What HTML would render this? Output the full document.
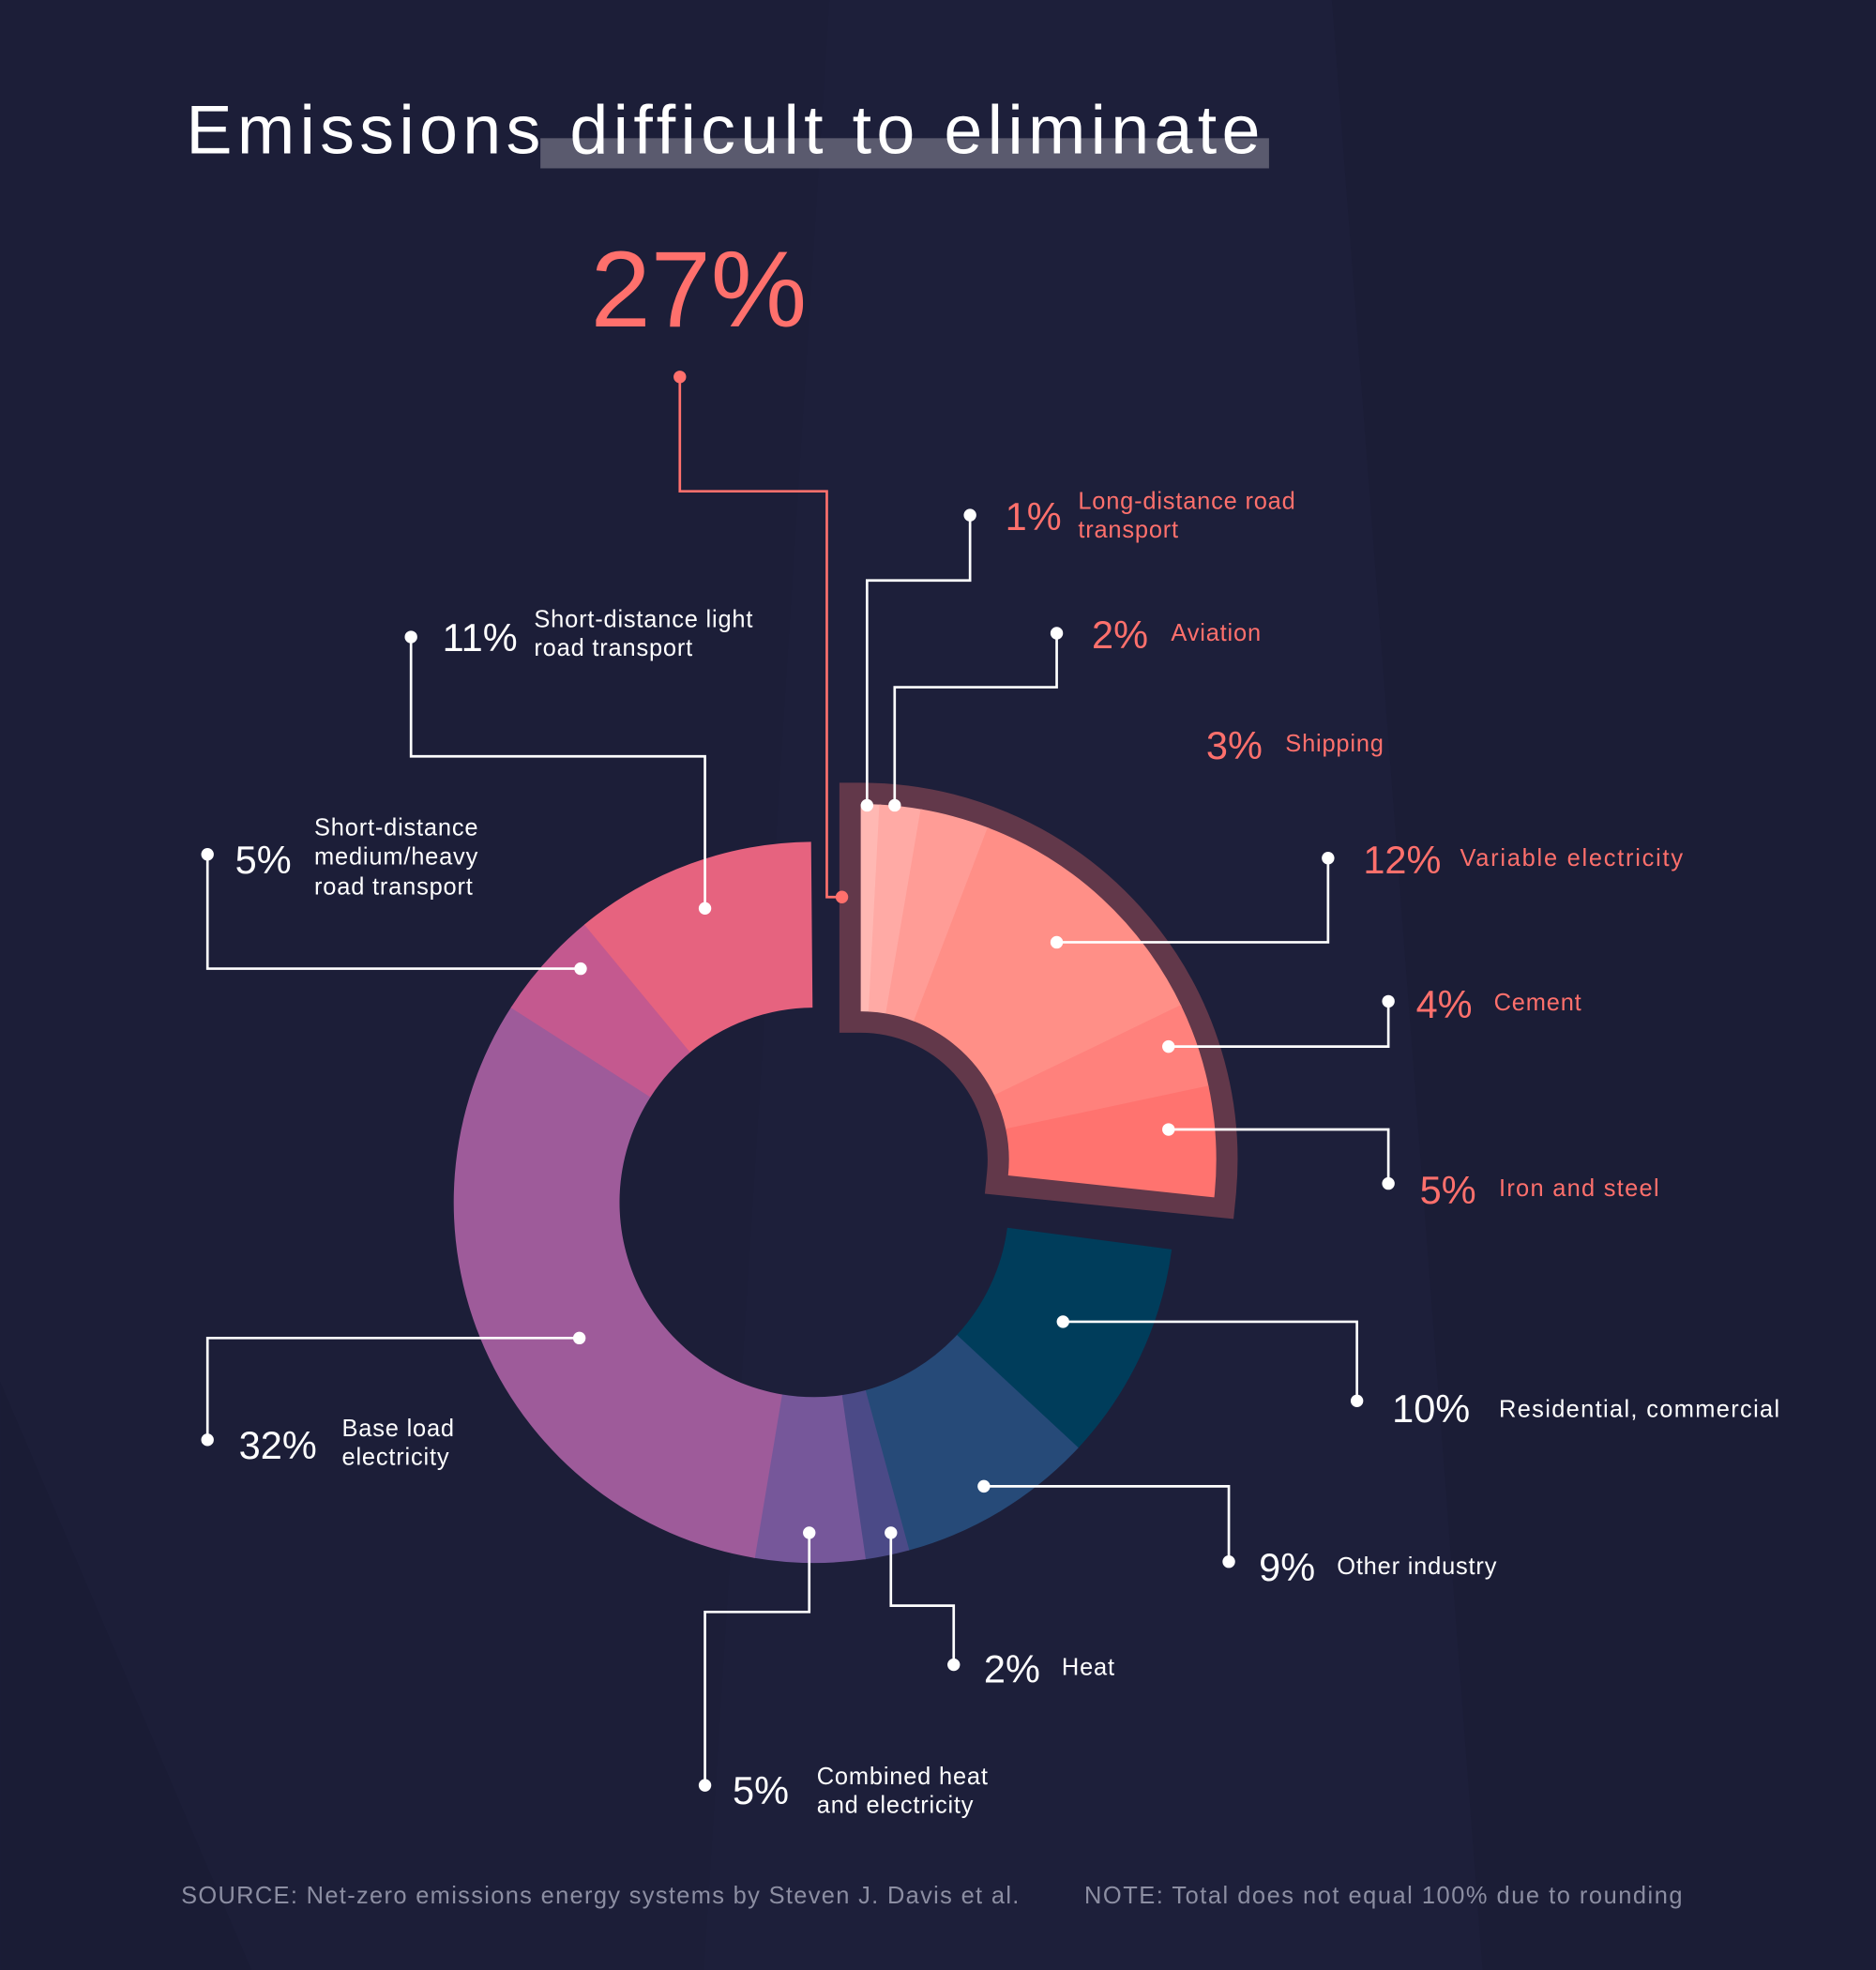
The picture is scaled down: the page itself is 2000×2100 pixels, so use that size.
<!DOCTYPE html>
<html><head><meta charset="utf-8"><style>
html,body{margin:0;padding:0;background:#1d1f3a;}
svg{display:block;}
text{font-family:"Liberation Sans",sans-serif;}
</style></head><body>
<svg id="s" width="2000" height="2100" viewBox="0 0 1493 1568" xmlns="http://www.w3.org/2000/svg">
<rect width="1493" height="1568" fill="#1d1f3a"/>
<polygon points="0,0 660,0 560,1568 0,1568" fill="#1c1e38"/>
<polygon points="1060,0 1493,0 1493,1568 1180,1568" fill="#1b1d36"/>
<polygon points="0,1100 200,1568 0,1568" fill="#1a1c35"/>
<rect x="430" y="110" width="580" height="24" fill="#5a5a6e"/>
<text x="148" y="122" font-size="55" fill="#ffffff" textLength="855" lengthAdjust="spacing">Emissions difficult to eliminate</text>
<text x="470" y="260" font-size="86" fill="#ff706c">27%</text>
<g id="donut"></g>
<g id="lines" fill="none" stroke-width="2"></g>
<g id="dots"></g>
<g font-size="31" fill="#ff706c">
<text x="800" y="422">1%</text><text x="869" y="516">2%</text><text x="960" y="604">3%</text>
<text x="1085" y="695">12%</text><text x="1127" y="810">4%</text><text x="1130" y="958">5%</text>
</g>
<g font-size="19" fill="#ff706c" letter-spacing="0.6">
<text x="858" y="405">Long-distance road</text><text x="858" y="428">transport</text>
<text x="932" y="510">Aviation</text><text x="1023" y="598">Shipping</text>
<text x="1162" y="689" textLength="178" lengthAdjust="spacing">Variable electricity</text><text x="1189" y="804">Cement</text>
<text x="1193" y="952" textLength="128" lengthAdjust="spacing">Iron and steel</text>
</g>
<g font-size="31" fill="#ffffff">
<text x="1108" y="1132">10%</text><text x="1002" y="1258">9%</text><text x="783" y="1339">2%</text>
<text x="583" y="1436">5%</text><text x="190" y="1161">32%</text><text x="187" y="695">5%</text>
<text x="352" y="518">11%</text>
</g>
<g font-size="19" fill="#ffffff" letter-spacing="0.6">
<text x="1193" y="1128" textLength="224" lengthAdjust="spacing">Residential, commercial</text><text x="1064" y="1253">Other industry</text>
<text x="845" y="1333">Heat</text>
<text x="650" y="1420">Combined heat</text><text x="650" y="1443">and electricity</text>
<text x="272" y="1143">Base load</text><text x="272" y="1166">electricity</text>
<text x="250" y="665">Short-distance</text><text x="250" y="688">medium/heavy</text><text x="250" y="712">road transport</text>
<text x="425" y="499">Short-distance light</text><text x="425" y="522">road transport</text>
</g>
<g font-size="19" fill="#8c8ea2">
<text x="144" y="1515" textLength="667" lengthAdjust="spacing">SOURCE: Net-zero emissions energy systems by Steven J. Davis et al.</text>
<text x="863" y="1515" textLength="476" lengthAdjust="spacing">NOTE: Total does not equal 100% due to rounding</text>
</g>
</svg>
<script>
var NS="http://www.w3.org/2000/svg";
function pt(cx,cy,r,a){a=a*Math.PI/180;return [cx+r*Math.sin(a),cy-r*Math.cos(a)];}
function sec(cx,cy,ri,ro,a0,a1){
 var p1=pt(cx,cy,ro,a0),p2=pt(cx,cy,ro,a1),p3=pt(cx,cy,ri,a1),p4=pt(cx,cy,ri,a0);
 var lg=(a1-a0)>180?1:0;
 return "M"+p1+"A"+ro+","+ro+" 0 "+lg+" 1 "+p2+"L"+p3+"A"+ri+","+ri+" 0 "+lg+" 0 "+p4+"Z";
}
var g=document.getElementById("donut");
function add(d,fill,extra){var p=document.createElementNS(NS,"path");p.setAttribute("d",d);p.setAttribute("fill",fill);if(extra)for(var k in extra)p.setAttribute(k,extra[k]);g.appendChild(p);}
add(sec(685,923,118,283,0,95.8),"#62384a",{stroke:"#62384a","stroke-width":34,"stroke-linejoin":"miter"});
var ex=[[0,3,"#ffb8b3"],[3,9.7,"#ffaaa5"],[9.7,20.9,"#ff9c96"],[20.9,64.2,"#ff8f87"],[64.2,78,"#ff817c"],[78,95.8,"#ff736f"]];
ex.forEach(function(e){add(sec(685,923,118,283,e[0],e[1]+0.3),e[2]);});
var rest=[[10,"#003d5b"],[9,"#264a78"],[2,"#4b4a87"],[5,"#76579a"],[32,"#9e5b9a"],[5,"#c4598f"],[11,"#e6637f"]];
var a=97.5,k=(359.3-97.5)/74;
rest.forEach(function(r){var b=a+r[0]*k;add(sec(648,957,155,287,a,b+0.2),r[1]);a=b;});
var L=document.getElementById("lines"),D=document.getElementById("dots");
function line(pts,c){var p=document.createElementNS(NS,"polyline");p.setAttribute("points",pts.map(function(q){return q.join(",")}).join(" "));p.setAttribute("stroke",c);L.appendChild(p);
 [pts[0],pts[pts.length-1]].forEach(function(q){var ci=document.createElementNS(NS,"circle");ci.setAttribute("cx",q[0]);ci.setAttribute("cy",q[1]);ci.setAttribute("r",5);ci.setAttribute("fill",c);D.appendChild(ci);});}
var W="#ffffff",C="#ff706c";
line([[541,300],[541,391],[658,391],[658,714],[670,714]],C);
line([[772,410],[772,462],[690,462],[690,641]],W);
line([[841,504],[841,547],[712,547],[712,641]],W);
line([[1057,683],[1057,750],[841,750]],W);
line([[1105,797],[1105,833],[930,833]],W);
line([[930,899],[1105,899],[1105,942]],W);
line([[846,1052],[1080,1052],[1080,1115]],W);
line([[783,1183],[978,1183],[978,1243]],W);
line([[709,1220],[709,1278],[759,1278],[759,1325]],W);
line([[644,1220],[644,1283],[561,1283],[561,1421]],W);
line([[461,1065],[165,1065],[165,1146]],W);
line([[462,771],[165,771],[165,680]],W);
line([[561,723],[561,602],[327,602],[327,507]],W);
</script>
</body></html>
